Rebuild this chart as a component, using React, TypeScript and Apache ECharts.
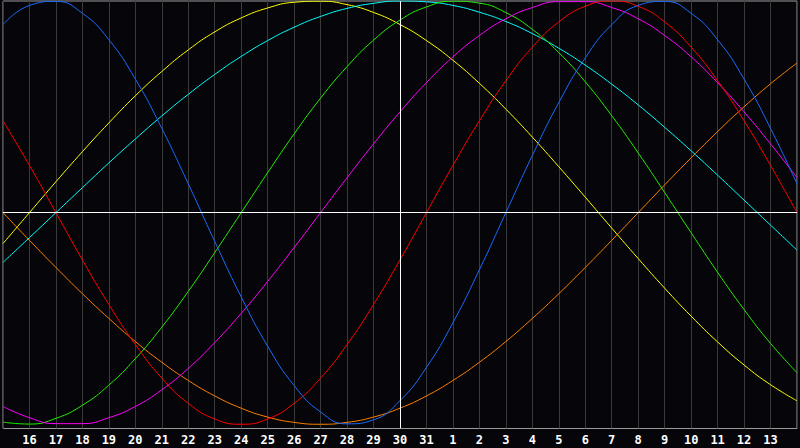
import React, { useEffect, useRef } from "react";
import * as echarts from "echarts";

// Day labels under the vertical grid lines (positions 1..29), position 15 = today
const dayLabels = ["16","17","18","19","20","21","22","23","24","25","26","27","28","29","30","31","1","2","3","4","5","6","7","8","9","10","11","12","13"];

// Cycle values read per day, positions 0..30
const physical = [0.888,0.979,0.998,0.942,0.817,0.631,0.398,0.136,-0.136,-0.398,-0.631,-0.817,-0.942,-0.998,-0.979,-0.888,-0.731,-0.520,-0.270,0,0.270,0.520,0.731,0.888,0.979,0.998,0.942,0.817,0.631,0.398,0.136];
const emotional = [0.434,0.223,0,-0.223,-0.434,-0.623,-0.782,-0.901,-0.975,-1,-0.975,-0.901,-0.782,-0.623,-0.434,-0.223,0,0.223,0.434,0.623,0.782,0.901,0.975,1,0.975,0.901,0.782,0.623,0.434,0.223,0];
const intellectual = [-0.990,-0.999,-0.972,-0.910,-0.815,-0.690,-0.541,-0.372,-0.189,0,0.189,0.372,0.541,0.690,0.815,0.910,0.972,0.999,0.990,0.945,0.866,0.756,0.618,0.458,0.282,0.095,-0.095,-0.282,-0.458,-0.618,-0.756];
const aesthetic = [-0.146,0,0.146,0.288,0.424,0.552,0.667,0.769,0.854,0.920,0.967,0.994,0.999,0.983,0.946,0.889,0.813,0.720,0.611,0.489,0.357,0.217,0.073,-0.073,-0.217,-0.357,-0.489,-0.611,-0.720,-0.813,-0.889];
const spiritual = [-0.235,-0.118,0,0.118,0.235,0.348,0.457,0.559,0.653,0.738,0.813,0.876,0.927,0.965,0.989,1.0,0.996,0.979,0.947,0.903,0.846,0.777,0.697,0.607,0.509,0.403,0.292,0.177,0.059,-0.059,-0.177];
const intuitive = [-0.916,-0.969,-0.997,-0.997,-0.969,-0.916,-0.837,-0.736,-0.614,-0.476,-0.325,-0.165,0,0.165,0.325,0.476,0.614,0.736,0.837,0.916,0.969,0.997,0.997,0.969,0.916,0.837,0.736,0.614,0.476,0.325,0.165];
const awareness = [0,-0.131,-0.259,-0.383,-0.5,-0.609,-0.707,-0.793,-0.866,-0.924,-0.966,-0.991,-1,-0.991,-0.966,-0.924,-0.866,-0.793,-0.707,-0.609,-0.5,-0.383,-0.259,-0.131,0,0.131,0.259,0.383,0.5,0.609,0.707];

const todayPos = 15;

const seriesDefs = [
  { name: "Awareness", data: awareness, color: "#ff8000" },
  { name: "Aesthetic", data: aesthetic, color: "#ffff00" },
  { name: "Spiritual", data: spiritual, color: "#00ffff" },
  { name: "Intellectual", data: intellectual, color: "#22ee00" },
  { name: "Intuitive", data: intuitive, color: "#ff00ff" },
  { name: "Emotional", data: emotional, color: "#ff0000" },
  { name: "Physical", data: physical, color: "#1a6cff" },
];

export default function App() {
  const ref = useRef<HTMLDivElement>(null);
  useEffect(() => {
    document.body.style.margin = "0";
    const chart = echarts.init(ref.current!, null, { renderer: "svg" });
    const series: any[] = seriesDefs.map((s) => ({
      name: s.name,
      type: "line",
      data: s.data.map((v, i) => [i, v]),
      smooth: 0.5,
      showSymbol: false,
      symbol: "none",
      lineStyle: { color: s.color, width: 1 },
      z: 3,
    }));
    series.push({
      type: "line",
      data: [],
      z: 2,
      markLine: {
        silent: true,
        symbol: "none",
        label: { show: false },
        lineStyle: { color: "#ffffff", width: 1, type: "solid" },
        data: [{ yAxis: 0 }, { xAxis: todayPos }],
      },
    });
    chart.setOption({
      animation: false,
      backgroundColor: "#060509",
      grid: {
        left: 0.5,
        right: 0.5,
        top: 1,
        bottom: 19.5,
        show: true,
        borderColor: "#9a9a9a",
        borderWidth: 1,
        backgroundColor: "transparent",
      },
      xAxis: {
        type: "value",
        min: 0,
        max: 30,
        interval: 1,
        axisLine: { show: true, lineStyle: { color: "#a0a0a0", width: 1 } },
        axisTick: { show: false },
        splitLine: { show: true, lineStyle: { color: "#3a3a3a", width: 1 } },
        axisLabel: {
          color: "#ffffff",
          fontWeight: "bold",
          fontSize: 12,
          fontFamily: "DejaVu Sans Mono",
          margin: 5,
          formatter: (v: number) => (v >= 1 && v <= 29 ? dayLabels[v - 1] : ""),
        },
      },
      yAxis: {
        type: "value",
        min: -1.02,
        max: 1,
        show: false,
        splitLine: { show: false },
      },
      series,
    });
    return () => chart.dispose();
  }, []);
  return (
    <div
      ref={ref}
      style={{ position: "fixed", left: 0, top: 0, width: 800, height: 448, background: "#060509" }}
    />
  );
}
